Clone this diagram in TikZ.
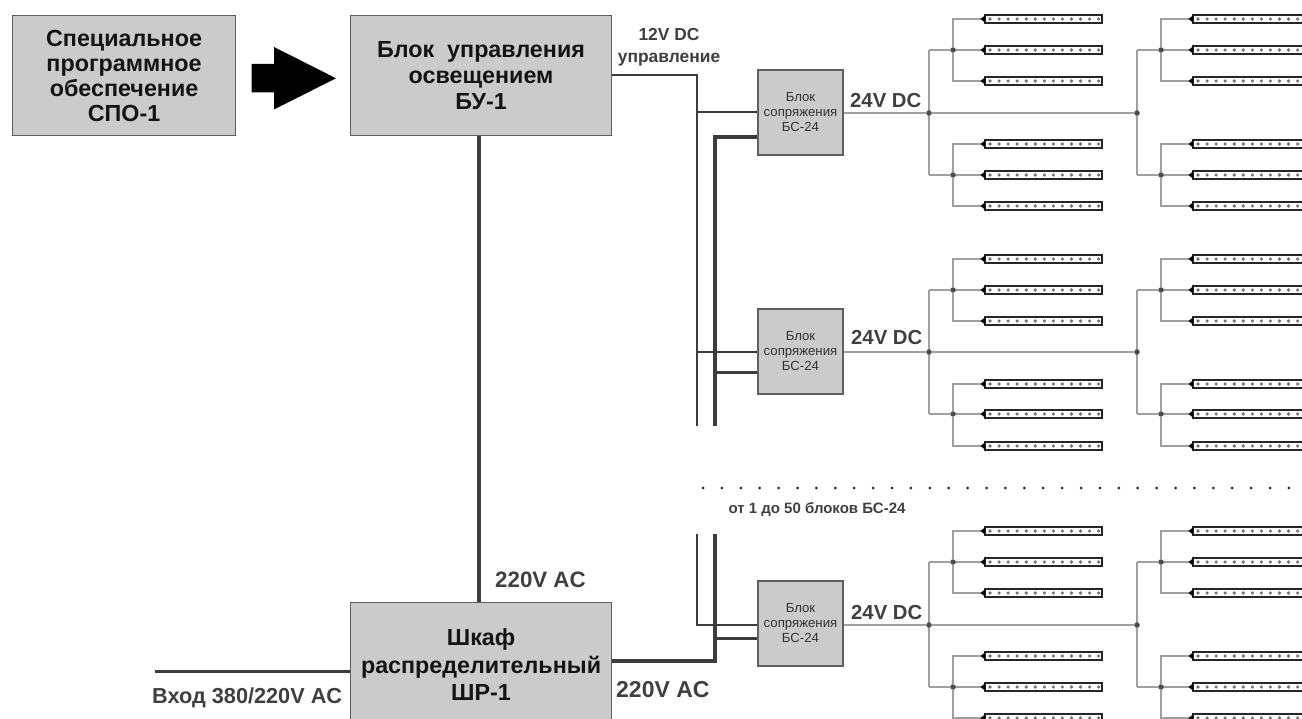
\documentclass[tikz,border=0pt]{standalone}
\usepackage{fontspec}
\setmainfont{Liberation Sans}
\definecolor{boxfill}{HTML}{CBCBCB}
\definecolor{boxline}{HTML}{5F5F5F}
\definecolor{wire}{HTML}{3C3C3C}
\definecolor{twire}{HTML}{A0A0A0}
\definecolor{lab}{HTML}{404040}
\pgfdeclarelayer{wires}
\pgfsetlayers{wires,main}
\tikzset{
  bigbox/.style={draw=boxline,line width=1.1pt,fill=boxfill,anchor=north west,inner sep=0pt,align=center,font=\bfseries\fontsize{23.3}{25}\selectfont,text=black!92},
  bigboxb/.style={bigbox,font=\bfseries\fontsize{23.3}{26}\selectfont},
  bigboxc/.style={bigbox,font=\bfseries\fontsize{23.3}{27.5}\selectfont},
  smallbox/.style={draw=boxline,line width=1.1pt,fill=boxfill,minimum width=85pt,minimum height=85pt,inner sep=0pt,align=center,font=\fontsize{13.2}{15}\selectfont,text=black!80},
  thickwire/.style={draw=wire,line width=4.2pt},
  midwire/.style={draw=wire,line width=3pt},
  thinwire/.style={draw=wire,line width=1.3pt},
  lowwire/.style={draw=twire,line width=1.1pt},
  lab24/.style={font=\bfseries\fontsize{20.3}{22}\selectfont,text=lab,inner sep=0pt},
  lab220/.style={font=\bfseries\fontsize{22.3}{24}\selectfont,text=lab,inner sep=0pt},
  lab12/.style={font=\bfseries\fontsize{17.4}{22}\selectfont,text=lab,align=center},
  stripbody/.style={draw=black!85,line width=1.8pt,fill=white,minimum width=117pt,minimum height=8.6pt,inner sep=0pt},
  hubdot/.style={circle,fill=black!70,minimum size=5.5pt,inner sep=0pt},
  ledot/.style={circle,fill=black!55,minimum size=3.6pt,inner sep=0pt},
}
\begin{document}
\begin{tikzpicture}[x=1pt,y=-1pt]
\useasboundingbox (0,0) rectangle (1302,719);
% main boxes
\node[bigbox,minimum width=223pt,minimum height=120pt] (spo) at (12,15) {Специальное\\программное\\обеспечение\\СПО-1};
\node[bigboxb,minimum width=261pt,minimum height=120pt] (bu) at (350,15) {Блок\ \ управления\\освещением\\БУ-1};
\node[bigboxc,minimum width=261pt,minimum height=125pt] (shr) at (350,602) {Шкаф\\распределительный\\ШР-1};
% big arrow
\fill[black] (251.5,64) -- (274,64) -- (274,47) -- (336,78.3) -- (274,109.5) -- (274,92.3) -- (251.5,92.3) -- cycle;
% power wires
\coordinate (vm) at (479,300);
\begin{pgfonlayer}{wires}
\draw[thickwire] (bu.south -| vm) -- (shr.north -| vm);
\end{pgfonlayer}
\coordinate (in) at (155,671);
\draw[midwire] (in) -- (shr.west |- in);
\node[lab220,anchor=west,font=\bfseries\fontsize{21.7}{24}\selectfont] at (152,698) {Вход 380/220V AC};
\node[lab220,anchor=west] at (495,580) {220V AC};
\node[lab220,anchor=west,font=\bfseries\fontsize{23}{24}\selectfont] at (616,690) {220V AC};
\node[lab12] at (669,47) {12V DC\\управление};
% interface units
\node[smallbox] (bsa) at (800.5,112.5) {Блок\\сопряжения\\БС-24};
\node[smallbox] (bsb) at (800.5,351.5) {Блок\\сопряжения\\БС-24};
\node[smallbox] (bsc) at (800.5,623.5) {Блок\\сопряжения\\БС-24};
% control line and tapped power line
\coordinate (ctop) at (697,75);
\coordinate (cbrk) at (697,426);
\coordinate (cres) at (697,534);
\coordinate (cend) at (697,625);
\coordinate (ptop) at (715,137);
\coordinate (pbrk) at (715,426);
\coordinate (pres) at (715,534);
\coordinate (pend) at (715,661);
\coordinate (taA) at (758,112);
\coordinate (taB) at (758,352);
\coordinate (paB) at (758,373);
\coordinate (paC) at (758,638);
\begin{pgfonlayer}{wires}
\draw[thinwire,line join=miter] (bu.east |- ctop) -- (ctop) -- (cbrk);
\draw[thinwire] (697,112) -- (taA);
\draw[thinwire] (697,352) -- (taB);
\draw[thinwire] (cres) -- (cend) -- (bsc.west |- cend);
\draw[thickwire,line join=miter] (bsa.west |- ptop) -- (ptop) -- (pbrk);
\draw[midwire] (715,373) -- (paB);
\draw[thickwire,line join=miter] (pres) -- (pend) -- (shr.east |- pend);
\draw[midwire] (715,638) -- (paC);
\end{pgfonlayer}
\node[lab24,anchor=west] at (850,101) {24V DC};
\node[lab24,anchor=west] at (851,338) {24V DC};
\node[lab24,anchor=west] at (851,613) {24V DC};
% light strip groups
\foreach \g/\hy/\bs/\ua/\ub/\uc/\la/\lb/\lc in {
  a/113/bsa/19/50/81/144/175/206,
  b/352/bsb/259/290/321/384/414/446,
  c/625/bsc/531/562/593/656/687/718}{
  \node[hubdot] (h1\g) at (929,\hy) {};
  \node[hubdot] (h2\g) at (1137,\hy) {};
  \begin{pgfonlayer}{wires}
  \draw[lowwire] (\bs.east |- h1\g) -- (h1\g) -- (h2\g);
  \end{pgfonlayer}
  \foreach \c/\hx/\sx in {1/929/984,2/1137/1192}{
    \node[hubdot] (su\c\g) at (\hx+24,\ub) {};
    \node[hubdot] (sl\c\g) at (\hx+24,\lb) {};
    \begin{pgfonlayer}{wires}
    \draw[lowwire] (\hx,\ub) -- (\hx,\lb);
    \draw[lowwire] (\hx,\ub) -- (su\c\g);
    \draw[lowwire] (\hx,\lb) -- (sl\c\g);
    \end{pgfonlayer}
    \foreach \r/\yy/\hub in {1/\ua/su,2/\ub/su,3/\uc/su,4/\la/sl,5/\lb/sl,6/\lc/sl}{
      \node[stripbody,anchor=west] (st\c\g\r) at (\sx,\yy) {};
      \fill[black] (\sx-3.5,\yy) -- (\sx+1,\yy-3.5) -- (\sx+1,\yy+3.5) -- cycle;
      \begin{pgfonlayer}{wires}
      \draw[lowwire] (\hub\c\g) -- (\hx+24,\yy) -- (st\c\g\r.west);
      \end{pgfonlayer}
      \foreach \k in {0,...,12}{
        \node[ledot] at (\sx+6+\k*9.05,\yy) {};
      }
    }
  }
}
% break marks
\foreach \i in {0,...,31}{
  \fill[black!85] (703+\i*18.9,488) circle (1.5pt);
}
\node[font=\bfseries\fontsize{15}{17}\selectfont,text=lab] (note) at (817,509) {от 1 до 50 блоков БС-24};
\end{tikzpicture}
\end{document}
